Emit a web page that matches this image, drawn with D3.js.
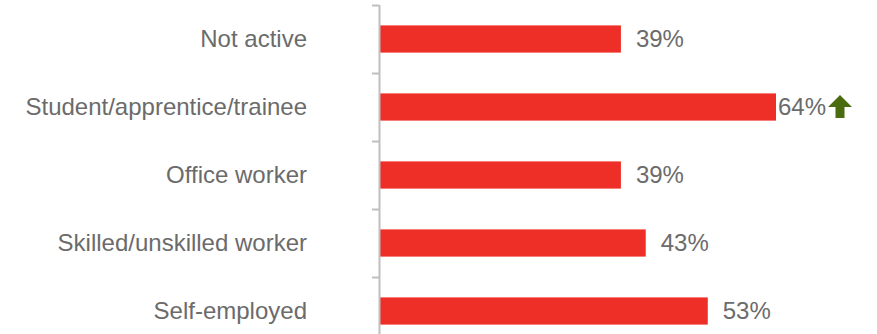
<!DOCTYPE html>
<html><head><meta charset="utf-8">
<script src="https://cdn.jsdelivr.net/npm/d3@7"></script>
<style>body{margin:0;background:#fff}svg{display:block}</style>
</head><body><div id="chart"></div>
<script>
const categories = ["Not active","Student/apprentice/trainee","Office worker","Skilled/unskilled worker","Self-employed"];
const values = [39,64,39,43,53];
const upArrow = [false,true,false,false,false];

const W=877,H=334;
const svg=d3.select("#chart").append("svg").attr("width",W).attr("height",H);
const x0=379;
const x=d3.scaleLinear().domain([0,64]).range([x0,776]);
const y=d3.scaleBand().domain(categories).range([5,345]).paddingInner(0.6).paddingOuter(0.3);
const grey="#6b6b6b";
const font="Liberation Sans, Arial, sans-serif", fs=24;

// bars
svg.selectAll("rect.bar").data(values).enter().append("rect")
  .attr("x",x(0)).attr("y",(d,i)=>y(categories[i]))
  .attr("width",d=>x(d)-x(0)).attr("height",y.bandwidth())
  .attr("fill","#ee2f27");

// axis
const step=y.step();
const axisG=svg.append("g");
axisG.append("line").attr("x1",x0+0.5).attr("x2",x0+0.5).attr("y1",5).attr("y2",H).attr("stroke","#bfbfbf").attr("stroke-width",2);
const tickYs=d3.range(categories.length+1).map(i=>5+i*step);
axisG.selectAll("line.t").data(tickYs).enter().append("line")
  .attr("x1",372).attr("x2",x0).attr("y1",d=>d+0.5).attr("y2",d=>d+0.5)
  .attr("stroke","#bfbfbf").attr("stroke-width",2);

// category labels
svg.selectAll("text.cat").data(categories).enter().append("text")
  .attr("x",307).attr("y",d=>y(d)+y.bandwidth()/2)
  .attr("dy","0.35em").attr("text-anchor","end")
  .attr("font-family",font).attr("font-size",fs)
  .attr("fill",grey).text(d=>d);

// value labels
svg.selectAll("text.val").data(values).enter().append("text")
  .attr("x",(d,i)=>x(d)+(upArrow[i]?2:15)).attr("y",(d,i)=>y(categories[i])+y.bandwidth()/2)
  .attr("dy","0.35em")
  .attr("font-family",font).attr("font-size",fs)
  .attr("fill",grey).text(d=>d+"%");

// arrows
values.forEach((v,i)=>{
  if(!upArrow[i])return;
  const cx=x(v)+64, cy=y(categories[i])+y.bandwidth()/2;
  const p=[[cx,cy-12],[cx+12,cy],[cx+4.5,cy],[cx+4.5,cy+11],[cx-4.5,cy+11],[cx-4.5,cy],[cx-12,cy]];
  svg.append("path").attr("d","M"+p.join("L")+"Z").attr("fill","#4a6b0f");
});
</script></body></html>
